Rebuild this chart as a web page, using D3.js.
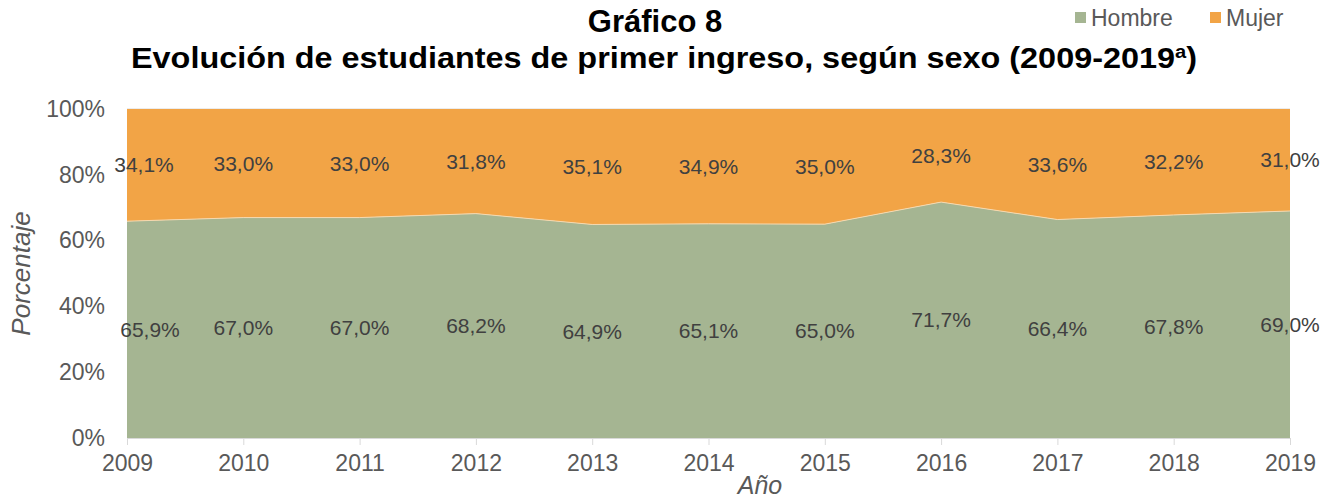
<!DOCTYPE html>
<html>
<head>
<meta charset="utf-8">
<script src="https://cdn.jsdelivr.net/npm/d3@7"></script>
<style>
  body { margin: 0; background: #fff; }
  svg { font-family: "Liberation Sans", Arial, sans-serif; }
</style>
</head>
<body>
<div id="chart"></div>
<script>
// data
var years = [2009, 2010, 2011, 2012, 2013, 2014, 2015, 2016, 2017, 2018, 2019];
var hombre = [65.9, 67.0, 67.0, 68.2, 64.9, 65.1, 65.0, 71.7, 66.4, 67.8, 69.0];
var mujer = [34.1, 33.0, 33.0, 31.8, 35.1, 34.9, 35.0, 28.3, 33.6, 32.2, 31.0];
var yTicks = [0, 20, 40, 60, 80, 100];
var seriesNames = ['Hombre', 'Mujer'];
var colors = ['#A5B592', '#F2A446'];

var W = 1335, H = 501;
var margin = {left: 127, right: 45, top: 109, bottom: 63};

var svg = d3.select('#chart').append('svg')
  .attr('width', W)
  .attr('height', H);

var x = d3.scalePoint()
  .domain(years)
  .range([margin.left, W - margin.right]);

var y = d3.scaleLinear()
  .domain([0, 100])
  .range([H - margin.bottom, margin.top]);

// stacked data
var rows = years.map(function(yr, i) {
  return {year: yr, Hombre: hombre[i], Mujer: mujer[i]};
});
var stacked = d3.stack().keys(seriesNames)(rows);

// gridlines
svg.append('g').selectAll('line')
  .data(yTicks.slice(1))
  .enter().append('line')
  .attr('x1', margin.left)
  .attr('x2', W - margin.right)
  .attr('y1', function(d) { return y(d); })
  .attr('y2', function(d) { return y(d); })
  .attr('stroke', '#D9D9D9')
  .attr('stroke-width', 1);

// areas
var area = d3.area()
  .x(function(d) { return x(d.data.year); })
  .y0(function(d) { return y(d[0]); })
  .y1(function(d) { return y(d[1]); });

svg.append('g').selectAll('path')
  .data(stacked)
  .enter().append('path')
  .attr('d', area)
  .attr('fill', function(d, i) { return colors[i]; });

// thin light boundary between areas
svg.append('path')
  .datum(stacked[0])
  .attr('d', d3.line()
    .x(function(d) { return x(d.data.year); })
    .y(function(d) { return y(d[1]); }))
  .attr('fill', 'none')
  .attr('stroke', '#F5D9B0')
  .attr('stroke-width', 1);

// x axis
var xAxis = svg.append('g')
  .attr('transform', 'translate(0,' + (H - margin.bottom) + ')')
  .call(d3.axisBottom(x).tickSize(7).tickSizeOuter(0).tickPadding(10));
xAxis.select('.domain').attr('stroke', '#D9D9D9');
xAxis.selectAll('.tick line').attr('stroke', '#D9D9D9');
xAxis.selectAll('text')
  .attr('fill', '#595959')
  .attr('font-size', 23)
  .attr('font-family', '"Liberation Sans", Arial, sans-serif');

// y axis
var yAxis = svg.append('g')
  .attr('transform', 'translate(' + (margin.left - 2) + ',0)')
  .call(d3.axisLeft(y).tickValues(yTicks).tickSize(0).tickPadding(20)
    .tickFormat(function(d) { return d + '%'; }));
yAxis.select('.domain').remove();
yAxis.selectAll('text')
  .attr('fill', '#595959')
  .attr('font-size', 23)
  .attr('font-family', '"Liberation Sans", Arial, sans-serif');

// data labels, placed at the middle of each band
var firstNudge = [23, 17];
stacked.forEach(function(s, si) {
  svg.append('g').selectAll('text')
    .data(s)
    .enter().append('text')
    .attr('x', function(d, i) { return x(d.data.year) + (i === 0 ? firstNudge[si] : 0); })
    .attr('y', function(d) { return y((d[0] + d[1]) / 2); })
    .attr('dy', '0.35em')
    .attr('text-anchor', 'middle')
    .attr('font-size', 21)
    .attr('fill', '#404040')
    .text(function(d) { return (d[1] - d[0]).toFixed(1).replace('.', ',') + '%'; });
});

// axis titles
svg.append('text')
  .attr('transform', 'translate(30,' + ((margin.top + H - margin.bottom) / 2) + ') rotate(-90)')
  .attr('text-anchor', 'middle')
  .attr('font-size', 26)
  .attr('font-style', 'italic')
  .attr('fill', '#595959')
  .text('Porcentaje');

svg.append('text')
  .attr('x', 760)
  .attr('y', 494)
  .attr('text-anchor', 'middle')
  .attr('font-size', 25)
  .attr('font-style', 'italic')
  .attr('fill', '#595959')
  .text('Año');

// title
svg.append('text')
  .attr('x', 655)
  .attr('y', 32)
  .attr('text-anchor', 'middle')
  .attr('font-size', 31)
  .attr('font-weight', 'bold')
  .attr('fill', '#000')
  .text('Gráfico 8');

var t2 = svg.append('text')
  .attr('x', 664)
  .attr('y', 68)
  .attr('text-anchor', 'middle')
  .attr('font-size', 29)
  .attr('font-weight', 'bold')
  .attr('textLength', 1066)
  .attr('lengthAdjust', 'spacingAndGlyphs')
  .attr('fill', '#000');
t2.append('tspan').text('Evolución de estudiantes de primer ingreso, según sexo (2009-2019');
t2.append('tspan').attr('font-size', 18).attr('dy', -10).text('a');
t2.append('tspan').attr('dy', 10).text(')');

// legend
var legendX = [1075, 1210];
var legend = svg.append('g').selectAll('g')
  .data(seriesNames)
  .enter().append('g')
  .attr('transform', function(d, i) { return 'translate(' + legendX[i] + ',12)'; });
legend.append('rect')
  .attr('width', 11)
  .attr('height', 11)
  .attr('fill', function(d, i) { return colors[i]; });
legend.append('text')
  .attr('x', 16)
  .attr('y', 6)
  .attr('dy', '0.35em')
  .attr('font-size', 23)
  .attr('fill', '#595959')
  .text(function(d) { return d; });
</script>
</body>
</html>
